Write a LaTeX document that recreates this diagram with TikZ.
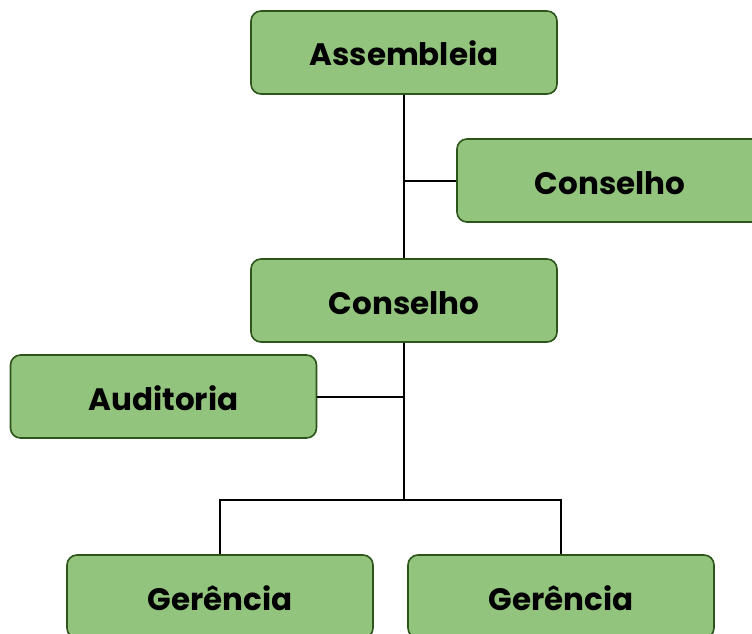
\documentclass[tikz,border=0pt]{standalone}
\usepackage{fontspec}
\setmainfont{Poppins}[BoldFont={Poppins Bold}]
\definecolor{boxfill}{HTML}{93C47D}
\definecolor{boxline}{HTML}{2B5519}
\tikzset{
  orgbox/.style={draw=boxline, fill=boxfill, line width=1.6pt, rounded corners=10pt,
    minimum width=306pt, minimum height=83pt, inner sep=0pt,
    text height=27pt, text depth=0pt,
    font=\fontsize{31}{34}\selectfont\bfseries},
  link/.style={draw=black, line width=2pt}
}
\begin{document}
\begin{tikzpicture}[x=1pt,y=-1pt]
  \useasboundingbox (0,0) rectangle (752,634);
  \clip (0,0) rectangle (752,634);
  \node[orgbox] (assembleia) at (404,52.5) {Assembleia};
  \node[orgbox] (conselhoA) at (610,180.5) {Conselho};
  \node[orgbox] (conselho) at (404,300.5) {Conselho};
  \node[orgbox] (auditoria) at (163.5,396.5) {Auditoria};
  \node[orgbox] (gerenciaA) at (220,596.5) {Gerência};
  \node[orgbox] (gerenciaB) at (561,596.5) {Gerência};
  \coordinate (split) at (404,500);
  \begin{scope}[link]
    \draw (assembleia.south) to (conselho.north);
    \draw (conselhoA.west) to (conselhoA.west -| assembleia.south);
    \draw (conselho.south) to (split);
    \draw (auditoria.east) to (auditoria.east -| conselho.south);
    \draw (gerenciaA.north) |- (split) -| (gerenciaB.north);
  \end{scope}
\end{tikzpicture}
\end{document}
